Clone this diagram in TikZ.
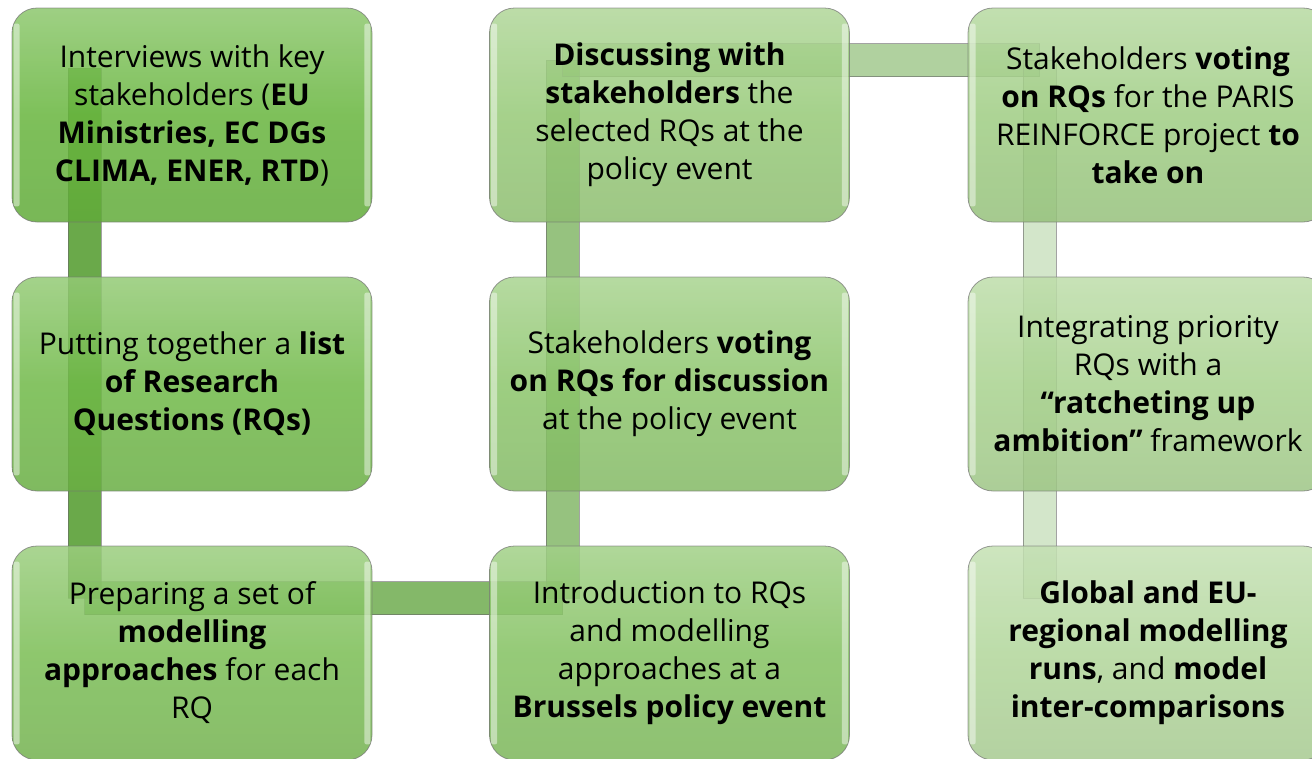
\documentclass[tikz,border=0pt]{standalone}
\usepackage{fontspec}
\setmainfont{Open Sans}
\usetikzlibrary{calc}
\pgfdeclarelayer{background}
\pgfsetlayers{background,main}
\definecolor{g1}{RGB}{103,181,61}
\definecolor{g2}{RGB}{112,185,72}
\definecolor{g3}{RGB}{122,189,84}
\definecolor{g4}{RGB}{131,193,96}
\definecolor{g5}{RGB}{140,197,107}
\definecolor{g6}{RGB}{150,201,119}
\definecolor{g7}{RGB}{159,205,131}
\definecolor{g8}{RGB}{168,210,142}
\definecolor{g9}{RGB}{177,214,154}
\definecolor{bandgreen}{RGB}{80,154,42}
\tikzset{
  box/.style={rounded corners=25pt, minimum width=360pt, minimum height=214pt,
    draw=black!55, draw opacity=0.7, line width=0.8pt,
    top color=#1!75!white, bottom color=#1!94!black, middle color=#1,
    fill opacity=0.85, text opacity=1, align=center, inner sep=0pt,
    font=\fontsize{30}{38}\selectfont},
  band/.style={fill=bandgreen, fill opacity=#1, draw=black!60, draw opacity=0.6, line width=0.7pt},
  hl/.style={fill=white, fill opacity=0.45, rounded corners=2pt}
}
\begin{document}
\begin{tikzpicture}[x=1pt,y=1pt]
\useasboundingbox (0,0) rectangle (1312,-758);
\clip (0,0) rectangle (1312,-758);
\node[box=g1] (b1) at (192,-115) {Interviews with key\\stakeholders (\textbf{EU}\\\textbf{Ministries, EC DGs}\\\textbf{CLIMA, ENER, RTD})};
\node[box=g2] (b2) at (192,-384) {Putting together a \textbf{list}\\\textbf{of Research}\\\textbf{Questions (RQs)}};
\node[box=g3] (b3) at (192,-653) {Preparing a set of\\\textbf{modelling}\\\textbf{approaches} for each\\RQ};
\node[box=g4] (b4) at (669.5,-653) {Introduction to RQs\\and modelling\\approaches at a\\\textbf{Brussels policy event}};
\node[box=g5] (b5) at (669.5,-384) {Stakeholders \textbf{voting}\\\textbf{on RQs for discussion}\\at the policy event};
\node[box=g6] (b6) at (669.5,-115) {\textbf{Discussing with}\\\textbf{stakeholders} the\\selected RQs at the\\policy event};
\node[box=g7] (b7) at (1148,-115) {Stakeholders \textbf{voting}\\\textbf{on RQs} for the PARIS\\REINFORCE project \textbf{to}\\\textbf{take on}};
\node[box=g8] (b8) at (1148,-384) {Integrating priority\\RQs with a\\\textbf{“ratcheting up}\\\textbf{ambition”} framework};
\node[box=g9] (b9) at (1148,-653) {\textbf{Global and EU-}\\\textbf{regional modelling}\\\textbf{runs}, and \textbf{model}\\\textbf{inter-comparisons}};
\foreach \i in {1,...,9}{
  \fill[hl] ($(b\i.north west)+(2,-16)$) rectangle ($(b\i.south west)+(8,16)$);
  \fill[hl] ($(b\i.north east)+(-8,-16)$) rectangle ($(b\i.south east)+(-2,16)$);
}
\coordinate (s1a) at ($(b1.center)+(-107.5,47)$);
\coordinate (s1b) at ($(b3.center)+(-107.5,55)$);
\coordinate (s2b) at ($(b4.center)+(-107,55)$);
\coordinate (s3b) at ($(b6.center)+(-107,55)$);
\coordinate (s4b) at ($(b7.center)+(-108.5,55)$);
\coordinate (s5b) at ($(b9.center)+(-108.5,55)$);
\begin{pgfonlayer}{background}
\draw[band=0.85] ($(s1a)+(-16.5,0)$) rectangle ($(s1b)+(16.5,0)$);
\draw[band=0.7] ($(s1b)+(0,16.5)$) rectangle ($(s2b)+(0,-16.5)$);
\draw[band=0.6] ($(s2b)+(-16.5,0)$) rectangle ($(s3b)+(16.5,0)$);
\draw[band=0.45] ($(s3b)+(0,16.5)$) rectangle ($(s4b)+(0,-16.5)$);
\draw[band=0.25] ($(s4b)+(-16.5,0)$) rectangle ($(s5b)+(16.5,0)$);
\end{pgfonlayer}
\end{tikzpicture}
\end{document}
